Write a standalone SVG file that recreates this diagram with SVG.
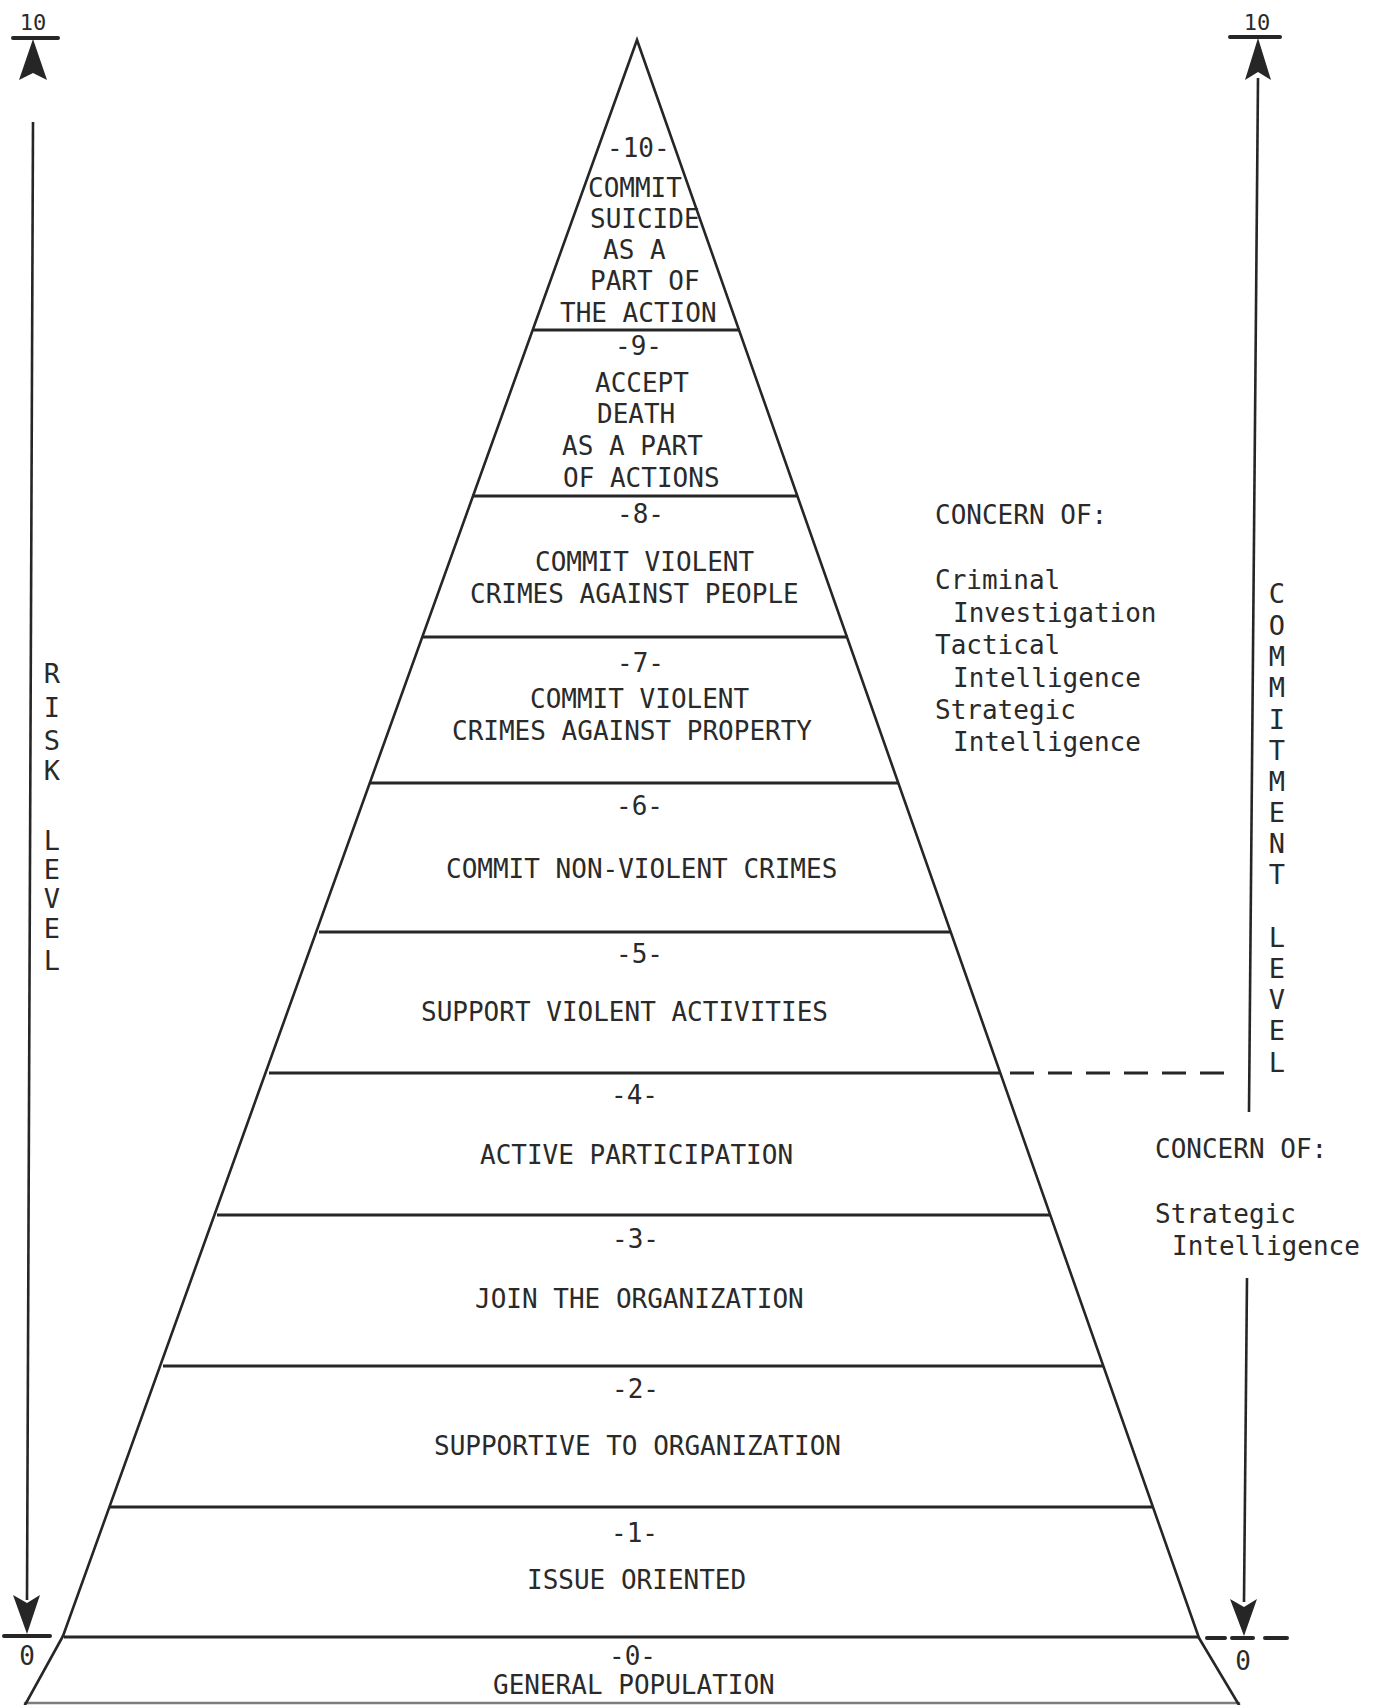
<svg xmlns="http://www.w3.org/2000/svg" width="1377" height="1705" viewBox="0 0 1377 1705">
<style>
  text { font-family: "DejaVu Sans Mono", "Liberation Mono", monospace; fill: #2a2a2a; }
  .t { font-size: 26px; }
  .v { font-size: 27px; text-anchor: middle; }
  .n { font-size: 22px; text-anchor: middle; }
  .z { font-size: 26px; text-anchor: middle; }
  .edge { stroke: #262626; stroke-width: 2.6; fill: none; stroke-linecap: round; }
  .band { stroke: #262626; stroke-width: 3.2; fill: none; }
  .ax { stroke: #262626; stroke-width: 2.6; fill: none; }
  .tick { stroke: #262626; stroke-width: 4; fill: none; stroke-linecap: round; }
  .dash { stroke: #262626; stroke-width: 3; fill: none; stroke-dasharray: 24 14; }
  .head { fill: #262626; stroke: none; }
</style>
<rect width="1377" height="1705" fill="#ffffff"/>

<g id="connectors">
  <!-- pyramid outline -->
  <polyline class="edge" points="63,1636 637,40 1199,1638"/>
  <line class="edge" x1="63" y1="1636" x2="25" y2="1705"/>
  <line class="edge" x1="1199" y1="1638" x2="1239" y2="1705"/>
  <!-- band dividers -->
  <line class="band" x1="532" y1="330" x2="740" y2="330"/>
  <line class="band" x1="473" y1="496" x2="797" y2="496"/>
  <line class="band" x1="422" y1="637" x2="848" y2="637"/>
  <line class="band" x1="369" y1="783" x2="899" y2="783"/>
  <line class="band" x1="319" y1="932" x2="951" y2="932"/>
  <line class="band" x1="269" y1="1073" x2="1000" y2="1073"/>
  <line class="band" x1="217" y1="1215" x2="1050" y2="1215"/>
  <line class="band" x1="163" y1="1366" x2="1103" y2="1366"/>
  <line class="band" x1="110" y1="1507" x2="1152" y2="1507"/>
  <line class="band" x1="64" y1="1637" x2="1199" y2="1637"/>
  <line class="edge" x1="25" y1="1703" x2="1239" y2="1703" stroke-opacity="0.6"/>
  <!-- dashed boundary between level 5 and 4 -->
  <line class="dash" x1="1010" y1="1073" x2="1236" y2="1073"/>
  <!-- dashed tick at zero, right -->
  <line class="tick" x1="1207" y1="1638" x2="1225" y2="1638" stroke-width="3"/>
  <line class="tick" x1="1232" y1="1638" x2="1253" y2="1638" stroke-width="3"/>
  <line class="tick" x1="1265" y1="1638" x2="1287" y2="1638" stroke-width="3"/>

  <!-- risk level axis (left) -->
  <line class="tick" x1="13" y1="38" x2="58" y2="38"/>
  <polygon class="head" points="33,39 47,80 33,73 19,80"/>
  <line class="ax" x1="33" y1="122" x2="27" y2="1600"/>
  <polygon class="head" points="27,1634 40,1595 27,1603 13,1595"/>
  <line class="tick" x1="4" y1="1636" x2="50" y2="1636"/>

  <!-- commitment level axis (right) -->
  <line class="tick" x1="1230" y1="37" x2="1280" y2="37"/>
  <polygon class="head" points="1258,38 1271,80 1258,72 1245,80"/>
  <line class="ax" x1="1258" y1="78" x2="1249" y2="1112"/>
  <line class="ax" x1="1247" y1="1278" x2="1244" y2="1602"/>
  <polygon class="head" points="1244,1636 1257,1599 1244,1607 1230,1599"/>
</g>

<g id="axis-labels">
  <text class="n" x="33" y="30">10</text>
  <text class="n" x="1257" y="30">10</text>
  <text class="z" x="27" y="1665">0</text>
  <text class="z" x="1243" y="1670">0</text>
</g>

<g id="risk-level-label">
  <text class="v" x="52" y="683">R</text>
  <text class="v" x="52" y="717">I</text>
  <text class="v" x="52" y="750">S</text>
  <text class="v" x="52" y="780">K</text>
  <text class="v" x="52" y="850">L</text>
  <text class="v" x="52" y="879">E</text>
  <text class="v" x="52" y="908">V</text>
  <text class="v" x="52" y="938">E</text>
  <text class="v" x="52" y="970">L</text>
</g>

<g id="commitment-level-label">
  <text class="v" x="1277" y="603">C</text>
  <text class="v" x="1277" y="635">O</text>
  <text class="v" x="1277" y="666">M</text>
  <text class="v" x="1277" y="697">M</text>
  <text class="v" x="1277" y="729">I</text>
  <text class="v" x="1277" y="760">T</text>
  <text class="v" x="1277" y="791">M</text>
  <text class="v" x="1277" y="822">E</text>
  <text class="v" x="1277" y="853">N</text>
  <text class="v" x="1277" y="884">T</text>
  <text class="v" x="1277" y="947">L</text>
  <text class="v" x="1277" y="978">E</text>
  <text class="v" x="1277" y="1009">V</text>
  <text class="v" x="1277" y="1040">E</text>
  <text class="v" x="1277" y="1072">L</text>
</g>

<g id="level-10">
  <text class="t" x="607" y="157">-10-</text>
  <text class="t" x="588" y="197">COMMIT</text>
  <text class="t" x="590" y="228">SUICIDE</text>
  <text class="t" x="603" y="259">AS A</text>
  <text class="t" x="590" y="290">PART OF</text>
  <text class="t" x="560" y="322">THE ACTION</text>
</g>
<g id="level-9">
  <text class="t" x="615" y="355">-9-</text>
  <text class="t" x="595" y="392">ACCEPT</text>
  <text class="t" x="597" y="423">DEATH</text>
  <text class="t" x="562" y="455">AS A PART</text>
  <text class="t" x="563" y="487">OF ACTIONS</text>
</g>
<g id="level-8">
  <text class="t" x="617" y="523">-8-</text>
  <text class="t" x="535" y="571">COMMIT VIOLENT</text>
  <text class="t" x="470" y="603">CRIMES AGAINST PEOPLE</text>
</g>
<g id="level-7">
  <text class="t" x="617" y="672">-7-</text>
  <text class="t" x="530" y="708">COMMIT VIOLENT</text>
  <text class="t" x="452" y="740">CRIMES AGAINST PROPERTY</text>
</g>
<g id="level-6">
  <text class="t" x="616" y="815">-6-</text>
  <text class="t" x="446" y="878">COMMIT NON-VIOLENT CRIMES</text>
</g>
<g id="level-5">
  <text class="t" x="616" y="963">-5-</text>
  <text class="t" x="421" y="1021">SUPPORT VIOLENT ACTIVITIES</text>
</g>
<g id="level-4">
  <text class="t" x="611" y="1104">-4-</text>
  <text class="t" x="480" y="1164">ACTIVE PARTICIPATION</text>
</g>
<g id="level-3">
  <text class="t" x="612" y="1248">-3-</text>
  <text class="t" x="475" y="1308">JOIN THE ORGANIZATION</text>
</g>
<g id="level-2">
  <text class="t" x="612" y="1398">-2-</text>
  <text class="t" x="434" y="1455">SUPPORTIVE TO ORGANIZATION</text>
</g>
<g id="level-1">
  <text class="t" x="611" y="1542">-1-</text>
  <text class="t" x="527" y="1589">ISSUE ORIENTED</text>
</g>
<g id="level-0">
  <text class="t" x="609" y="1665">-0-</text>
  <text class="t" x="493" y="1694">GENERAL POPULATION</text>
</g>

<g id="concern-upper">
  <text class="t" x="935" y="524">CONCERN OF:</text>
  <text class="t" x="935" y="589">Criminal</text>
  <text class="t" x="953" y="622">Investigation</text>
  <text class="t" x="935" y="654">Tactical</text>
  <text class="t" x="953" y="687">Intelligence</text>
  <text class="t" x="935" y="719">Strategic</text>
  <text class="t" x="953" y="751">Intelligence</text>
</g>
<g id="concern-lower">
  <text class="t" x="1155" y="1158">CONCERN OF:</text>
  <text class="t" x="1155" y="1223">Strategic</text>
  <text class="t" x="1172" y="1255">Intelligence</text>
</g>
</svg>
